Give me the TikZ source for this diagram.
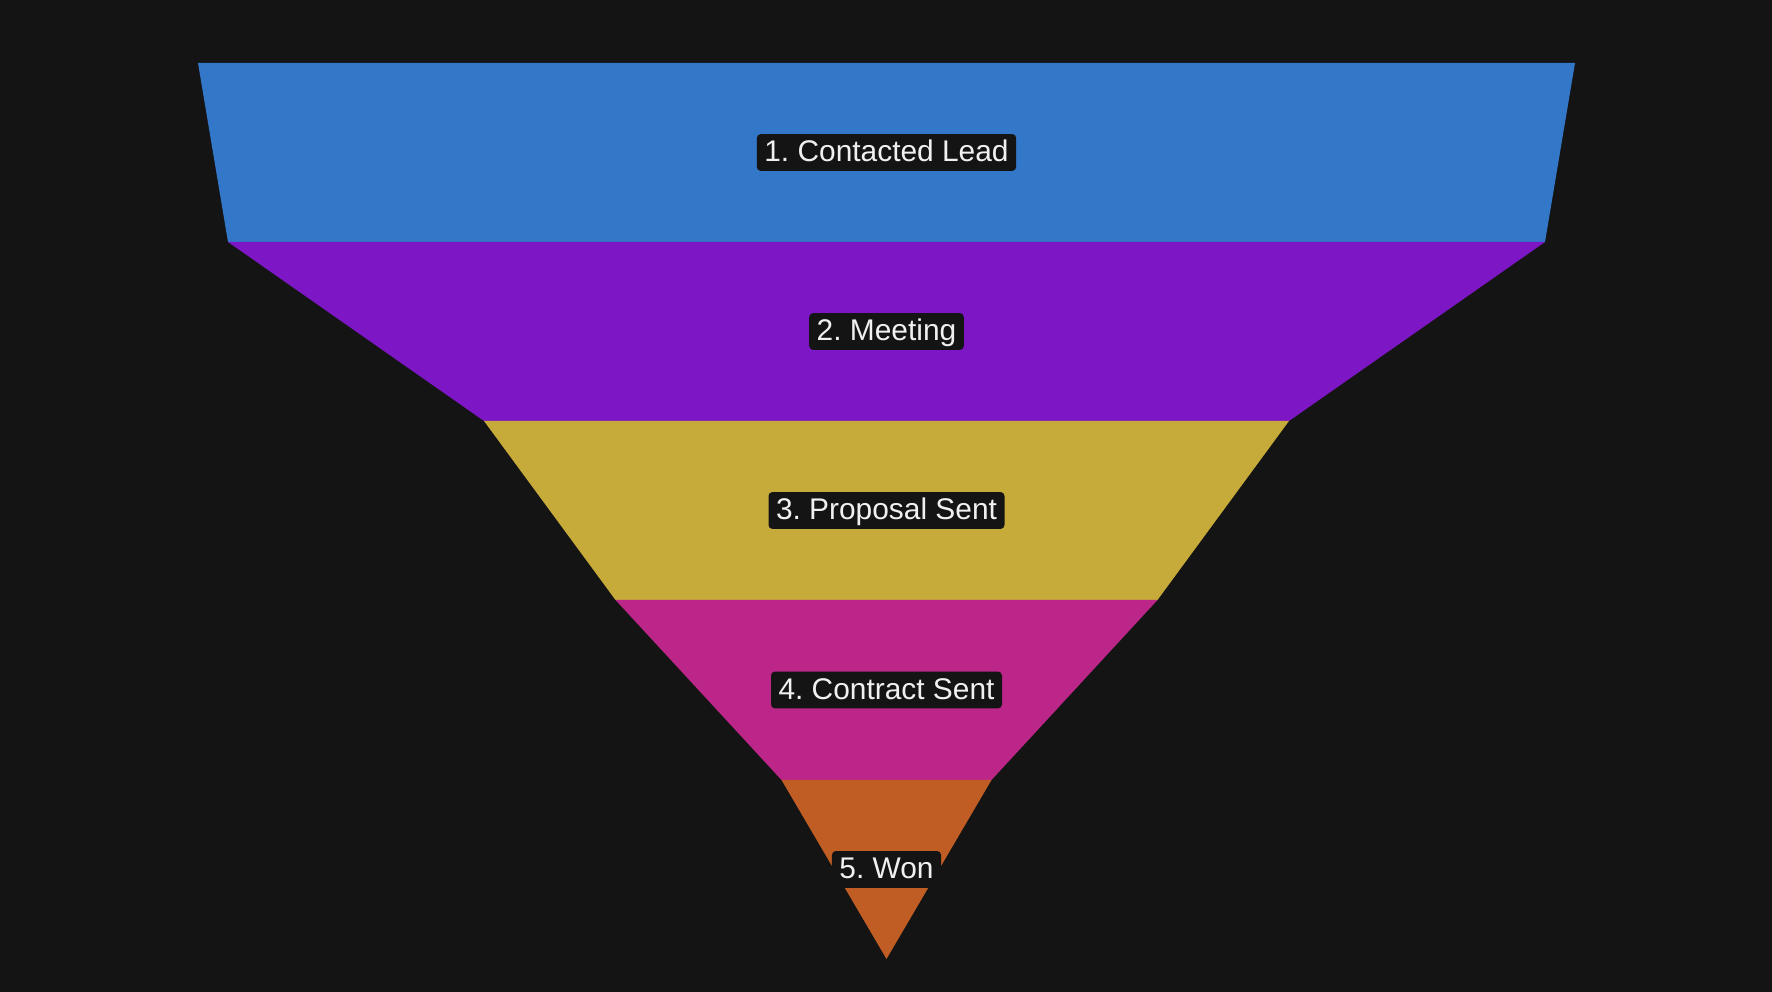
\documentclass[tikz,border=0pt]{standalone}
\usepackage{fontspec}
\setmainfont{Liberation Sans}
\frenchspacing
\definecolor{pagebg}{RGB}{20,20,20}
\definecolor{leadblue}{RGB}{51,119,200}
\definecolor{meetpurple}{RGB}{125,22,196}
\definecolor{propgold}{RGB}{198,170,58}
\definecolor{contractpink}{RGB}{188,38,136}
\definecolor{wonorange}{RGB}{192,93,36}
\definecolor{labeltext}{RGB}{240,240,240}
\tikzset{
  stagelabel/.style={fill=pagebg, text=labeltext, rounded corners=0.04cm,
    inner xsep=0.075cm, inner ysep=0pt,
    text height=7.9pt, text depth=2.6pt, font=\fontsize{8.5}{10}\selectfont}
}
\begin{document}
\begin{tikzpicture}[x=0.01cm,y=-0.01cm]
\fill[pagebg] (0,0) rectangle (1772,992);
\useasboundingbox (0,0) rectangle (1772,992);

% funnel bands: top y / bottom y / top half width / bottom half width / colour
\foreach \yt/\yb/\wt/\wb/\col in {63/242/688.5/658.5/leadblue,242/421/658.5/402.5/meetpurple,421/600/402.5/271/propgold,600/780/271/105/contractpink,780/959/105/0/wonorange} {
    \fill[\col] ({886.5-\wt},\yt) -- ({886.5+\wt},\yt) -- ({886.5+\wb},\yb) -- ({886.5-\wb},\yb) -- cycle;
}

\node[stagelabel] (lead) at (886.5,152.5) {1. Contacted Lead};
\node[stagelabel] (meeting) at (886.5,331.5) {2. Meeting};
\node[stagelabel] (proposal) at (886.5,510.5) {3. Proposal Sent};
\node[stagelabel] (contract) at (886.5,690) {4. Contract Sent};
\node[stagelabel] (won) at (886.5,869.5) {5. Won};
\end{tikzpicture}
\end{document}
